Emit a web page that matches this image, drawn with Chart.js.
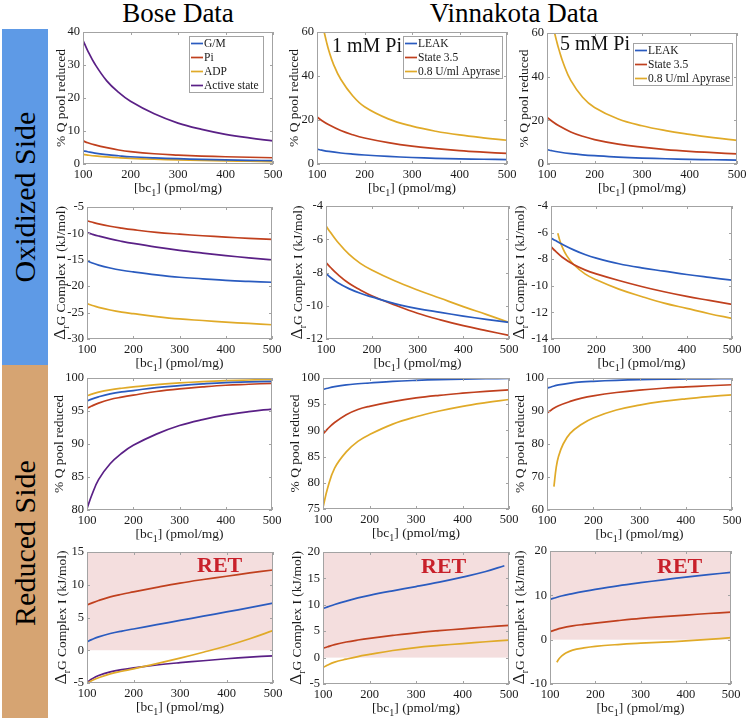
<!DOCTYPE html>
<html>
<head>
<meta charset="utf-8">
<script src="https://cdn.jsdelivr.net/npm/chart.js@4.4.0/dist/chart.umd.min.js"></script>
<style>
	body { margin:0; background:#fff; width:747px; height:721px; position:relative; overflow:hidden; font-family:"Liberation Serif", serif; }
	.band { position:absolute; left:2px; width:46px; }
	.side { position:absolute; left:25px; font-size:30px; line-height:30px; white-space:nowrap; transform:translate(-50%,-50%) rotate(-90deg); }
	.head { position:absolute; top:0; font-size:27px; line-height:27px; white-space:nowrap; transform:translateX(-50%); }
	canvas { position:absolute; }
</style>
</head>
<body>
<div class="band" style="top:29px;height:336px;background:#5e9ae6"></div>
<div class="band" style="top:365px;height:353px;background:#d6a472"></div>
<div class="side" style="top:197px">Oxidized Side</div>
<div class="side" style="top:543px">Reduced Side</div>
<div class="head" style="left:178px">Bose Data</div>
<div class="head" style="left:514px">Vinnakota Data</div>
<script>
// x values, [bc1] in pmol/mg
const bc1 = [100, 110, 125, 150, 175, 200, 250, 300, 350, 400, 450, 500]
const bc1Leak1 = [100, 110, 125, 150, 175, 200, 250, 300, 350, 400, 450, 490]
const bc1Apy1 = [114, 120, 125, 135, 150, 175, 200, 250, 300, 350, 400, 450, 500]
const bc1Apy5 = [115, 120, 125, 135, 150, 175, 200, 250, 300, 350, 400, 450, 500]
const xTicks = [100, 200, 300, 400, 500]

const boseLabels = ['G/M', 'Pi', 'ADP', 'Active state']
const vinLabels = ['LEAK', 'State 3.5', '0.8 U/ml Apyrase']

// oxidized side, % Q pool reduced
const bOxQ_GM = [4.0, 3.7, 3.3, 2.85, 2.5, 2.2, 1.85, 1.6, 1.4, 1.25, 1.12, 1.0]
const bOxQ_Pi = [7.0, 6.45, 5.8, 4.95, 4.25, 3.75, 3.1, 2.7, 2.4, 2.2, 2.05, 1.9]
const bOxQ_ADP = [2.9, 2.7, 2.45, 2.15, 1.9, 1.7, 1.45, 1.25, 1.1, 0.95, 0.83, 0.72]
const bOxQ_Act = [37.5, 34.3, 30.3, 25.2, 21.7, 19.0, 15.2, 12.4, 10.5, 9.0, 7.9, 7.0]
const v1OxQ_Leak = [6.8, 6.3, 5.7, 5.0, 4.5, 4.1, 3.45, 2.95, 2.6, 2.35, 2.15, 2.0]
const v1OxQ_S35 = [21.4, 19.8, 17.8, 15.2, 13.3, 11.8, 9.7, 8.1, 7.0, 6.1, 5.4, 4.8]
const v1OxQ_Apy = [61, 55.5, 51.5, 45.2, 38.5, 31.0, 26.0, 20.5, 17.2, 14.9, 13.2, 11.9, 10.8]
const v5OxQ_Leak = [6.6, 6.1, 5.5, 4.75, 4.2, 3.8, 3.15, 2.7, 2.4, 2.15, 1.95, 1.8]
const v5OxQ_S35 = [21.5, 19.7, 17.5, 14.7, 12.7, 11.2, 9.1, 7.7, 6.6, 5.8, 5.2, 4.6]
const v5OxQ_Apy = [61, 56.5, 52.5, 45.8, 38.3, 30.6, 25.9, 20.6, 17.5, 15.3, 13.6, 12.1, 10.8]

// oxidized side, dG complex I
const bOxG_GM = [-15.2, -15.55, -16.0, -16.55, -16.98, -17.3, -17.85, -18.3, -18.6, -18.9, -19.1, -19.25]
const bOxG_Pi = [-7.6, -7.85, -8.2, -8.65, -9.0, -9.3, -9.8, -10.15, -10.45, -10.7, -10.95, -11.15]
const bOxG_ADP = [-23.3, -23.6, -24.0, -24.5, -24.9, -25.2, -25.75, -26.2, -26.5, -26.8, -27.05, -27.3]
const bOxG_Act = [-9.84, -10.12, -10.5, -11.05, -11.5, -11.9, -12.6, -13.2, -13.72, -14.2, -14.62, -15.0]
const v1OxG_Leak = [-8.05, -8.3, -8.6, -8.97, -9.25, -9.47, -9.87, -10.17, -10.4, -10.62, -10.82, -11.0]
const v1OxG_S35 = [-7.4, -7.7, -8.1, -8.65, -9.05, -9.4, -9.95, -10.45, -10.85, -11.2, -11.5, -11.78]
const v1OxG_Apy = [-5.2, -5.6, -6.15, -6.9, -7.45, -7.85, -8.5, -9.05, -9.55, -10.05, -10.52, -11.0]
const v5OxG_Leak = [-6.4, -6.6, -6.88, -7.3, -7.65, -7.92, -8.34, -8.65, -8.9, -9.15, -9.37, -9.58]
const v5OxG_S35 = [-7.05, -7.4, -7.85, -8.4, -8.8, -9.1, -9.6, -10.05, -10.45, -10.8, -11.1, -11.4]
const v5OxG_Apy = [-6.05, -6.65, -7.1, -7.75, -8.4, -9.1, -9.55, -10.25, -10.8, -11.3, -11.7, -12.1, -12.45]

// reduced side, % Q pool reduced
const bRedQ_GM = [96.5, 96.8, 97.15, 97.6, 97.9, 98.1, 98.55, 98.85, 99.1, 99.3, 99.4, 99.5]
const bRedQ_Pi = [95.4, 95.75, 96.2, 96.75, 97.1, 97.4, 97.95, 98.35, 98.65, 98.9, 99.05, 99.2]
const bRedQ_ADP = [97.3, 97.55, 97.85, 98.2, 98.45, 98.65, 99.0, 99.25, 99.45, 99.6, 99.7, 99.8]
const bRedQ_Act = [80.2, 82.2, 84.6, 87.0, 88.6, 89.8, 91.5, 92.8, 93.7, 94.4, 94.9, 95.3]
const v1RedQ_Leak = [97.8, 98.05, 98.35, 98.7, 98.9, 99.05, 99.35, 99.55, 99.7, 99.8, 99.87, 99.92]
const v1RedQ_S35 = [89.3, 90.3, 91.5, 93.0, 94.0, 94.6, 95.5, 96.2, 96.7, 97.1, 97.45, 97.75]
const v1RedQ_Apy = [75.3, 79.0, 82.8, 85.9, 87.9, 89.2, 91.2, 92.6, 93.7, 94.6, 95.3, 95.9]
const v5RedQ_Leak = [96.9, 97.35, 97.9, 98.45, 98.8, 99.0, 99.3, 99.5, 99.62, 99.7, 99.76, 99.8]
const v5RedQ_S35 = [89.4, 90.4, 91.6, 92.9, 93.9, 94.6, 95.6, 96.35, 96.9, 97.3, 97.65, 97.95]
const v5RedQ_Apy = [67.1, 73.0, 76.3, 80.0, 83.2, 86.0, 87.9, 90.3, 91.8, 92.9, 93.7, 94.35, 94.9]

// reduced side, dG complex I
const bRedG_GM = [1.3, 1.62, 2.05, 2.55, 2.93, 3.25, 3.9, 4.55, 5.2, 5.85, 6.5, 7.2]
const bRedG_Pi = [6.9, 7.2, 7.6, 8.15, 8.55, 8.9, 9.6, 10.25, 10.8, 11.3, 11.8, 12.25]
const bRedG_ADP = [-5.0, -4.65, -4.2, -3.6, -3.2, -2.85, -2.05, -1.2, -0.3, 0.65, 1.75, 3.0]
const bRedG_Act = [-4.9, -4.4, -3.85, -3.3, -2.95, -2.7, -2.25, -1.9, -1.6, -1.3, -1.05, -0.85]
const v1RedG_Leak = [9.3, 9.6, 10.05, 10.7, 11.3, 11.8, 12.65, 13.45, 14.3, 15.25, 16.3, 17.4]
const v1RedG_S35 = [1.76, 2.05, 2.45, 2.95, 3.33, 3.65, 4.2, 4.7, 5.1, 5.45, 5.8, 6.1]
const v1RedG_Apy = [-1.9, -1.4, -0.85, -0.3, 0.2, 0.6, 1.35, 1.9, 2.3, 2.65, 3.0, 3.3]
const v5RedG_Leak = [9.1, 9.4, 9.85, 10.4, 10.9, 11.35, 12.15, 12.85, 13.5, 14.1, 14.65, 15.2]
const v5RedG_S35 = [1.8, 2.15, 2.6, 3.1, 3.45, 3.75, 4.3, 4.8, 5.2, 5.55, 5.9, 6.2]
const v5RedG_Apy = [-5.1, -4.3, -3.75, -3.0, -2.35, -1.85, -1.5, -1.1, -0.8, -0.55, -0.28, 0.05, 0.45]

// y tick labels
const tOxQBose = [0, 10, 20, 30, 40]
const tOxQVin = [0, 20, 40, 60]
const tOxGBose = [-30, -25, -20, -15, -10, -5]
const tOxGVin1 = [-12, -10, -8, -6, -4]
const tOxGVin5 = [-14, -12, -10, -8, -6, -4]
const tRedQBose = [80, 85, 90, 95, 100]
const tRedQVin1 = [75, 80, 85, 90, 95, 100]
const tRedQVin5 = [60, 70, 80, 90, 100]
const tRedGBose = [-5, 0, 5, 10, 15]
const tRedGVin1 = [-5, 0, 5, 10, 15, 20]
const tRedGVin5 = [-10, 0, 10, 20]

const blue = '#2a5bbf', red = '#c0401e', yellow = '#e0aa28', purple = '#5a2086'
const boseColors = [blue, red, yellow, purple]
const vinColors = [blue, red, yellow]

const qTitle = [['% Q pool reduced', 13.5, 0]]
const gTitle = [['\u0394', 17.5, 0], ['r', 10, 4], ['G Complex I (kJ/mol)', 13.5, 0]]
const xTitle = [['[bc', 13.5, 0], ['1', 10, 4], ['] (pmol/mg)', 13.5, 0]]

const ml = 70, mt = 12, mr = 14, mb = 40

let panels = [
	{ rect: [83, 32, 273, 164], yt: 60, ticks: tOxQBose, title: qTitle, labels: boseLabels, colors: boseColors,
		xs: [bc1, bc1, bc1, bc1], ys: [bOxQ_GM, bOxQ_Pi, bOxQ_ADP, bOxQ_Act], legend: [189, 36, 263] },
	{ rect: [317, 32, 507, 164], yt: 293, ticks: tOxQVin, title: qTitle, labels: vinLabels, colors: vinColors,
		xs: [bc1, bc1, bc1Apy1], ys: [v1OxQ_Leak, v1OxQ_S35, v1OxQ_Apy], legend: [403, 36, 502], note: ['1 mM Pi', 332, 52] },
	{ rect: [547, 33, 737, 164], yt: 523, ticks: tOxQVin, title: qTitle, labels: vinLabels, colors: vinColors,
		xs: [bc1, bc1, bc1Apy5], ys: [v5OxQ_Leak, v5OxQ_S35, v5OxQ_Apy], legend: [633, 43, 732], note: ['5 mM Pi', 560, 50] },
	{ rect: [87, 207, 272, 339], yt: 60, ticks: tOxGBose, title: gTitle, labels: boseLabels, colors: boseColors,
		xs: [bc1, bc1, bc1, bc1], ys: [bOxG_GM, bOxG_Pi, bOxG_ADP, bOxG_Act] },
	{ rect: [326, 206, 509, 339], yt: 297, ticks: tOxGVin1, title: gTitle, labels: vinLabels, colors: vinColors,
		xs: [bc1, bc1, bc1], ys: [v1OxG_Leak, v1OxG_S35, v1OxG_Apy] },
	{ rect: [551, 206, 732, 339], yt: 519, ticks: tOxGVin5, title: gTitle, labels: vinLabels, colors: vinColors,
		xs: [bc1, bc1, bc1Apy5], ys: [v5OxG_Leak, v5OxG_S35, v5OxG_Apy] },
	{ rect: [87, 378, 272, 510], yt: 58, ticks: tRedQBose, title: qTitle, labels: boseLabels, colors: boseColors,
		xs: [bc1, bc1, bc1, bc1], ys: [bRedQ_GM, bRedQ_Pi, bRedQ_ADP, bRedQ_Act] },
	{ rect: [323, 378, 509, 509], yt: 294, ticks: tRedQVin1, title: qTitle, labels: vinLabels, colors: vinColors,
		xs: [bc1, bc1, bc1], ys: [v1RedQ_Leak, v1RedQ_S35, v1RedQ_Apy] },
	{ rect: [547, 378, 732, 510], yt: 519, ticks: tRedQVin5, title: qTitle, labels: vinLabels, colors: vinColors,
		xs: [bc1, bc1, bc1Apy5], ys: [v5RedQ_Leak, v5RedQ_S35, v5RedQ_Apy] },
	{ rect: [87, 552, 273, 683], yt: 61, ticks: tRedGBose, title: gTitle, labels: boseLabels, colors: boseColors,
		xs: [bc1, bc1, bc1, bc1], ys: [bRedG_GM, bRedG_Pi, bRedG_ADP, bRedG_Act], ret: [197, 572] },
	{ rect: [323, 552, 509, 684], yt: 296, ticks: tRedGVin1, title: gTitle, labels: vinLabels, colors: vinColors,
		xs: [bc1Leak1, bc1, bc1], ys: [v1RedG_Leak, v1RedG_S35, v1RedG_Apy], ret: [421, 573] },
	{ rect: [550, 551, 731, 684], yt: 519, ticks: tRedGVin5, title: gTitle, labels: vinLabels, colors: vinColors,
		xs: [bc1, bc1, bc1Apy5], ys: [v5RedG_Leak, v5RedG_S35, v5RedG_Apy], ret: [657, 573] }
]

const serif = (s, bold) => (bold ? 'bold ' : '') + s + 'px "Liberation Serif", serif'

let drawRuns = (ctx, runs, x, y) => {
	let w = 0
	runs.forEach(r => { ctx.font = serif(r[1]); w += ctx.measureText(r[0]).width })
	let cx = x - w / 2
	runs.forEach(r => {
		ctx.font = serif(r[1])
		ctx.fillText(r[0], cx, y + r[2])
		cx += ctx.measureText(r[0]).width
	})
}

const panelPlugin = {
	id: 'panel',
	beforeDatasetsDraw(chart, args, p) {
		if (!p.ret) return
		let { ctx, chartArea: a, scales: { y } } = chart
		ctx.save()
		ctx.fillStyle = '#f4dede'
		ctx.fillRect(a.left, a.top, a.right - a.left, y.getPixelForValue(0) - a.top)
		ctx.restore()
	},
	afterDatasetsDraw(chart, args, p) {
		let { ctx, chartArea: a, scales: { x, y } } = chart
		ctx.save()
		ctx.strokeStyle = '#a3a3a3'
		ctx.lineWidth = 1
		ctx.strokeRect(Math.round(a.left) + .5, Math.round(a.top) + .5, Math.round(a.right - a.left) - 1, Math.round(a.bottom - a.top) - 1)
		ctx.beginPath()
		x.ticks.forEach(t => {
			let px = Math.round(x.getPixelForValue(t.value)) + .5
			ctx.moveTo(px, a.bottom); ctx.lineTo(px, a.bottom - 3)
			ctx.moveTo(px, a.top); ctx.lineTo(px, a.top + 3)
		})
		y.ticks.forEach(t => {
			let py = Math.round(y.getPixelForValue(t.value)) + .5
			ctx.moveTo(a.left, py); ctx.lineTo(a.left + 3, py)
			ctx.moveTo(a.right, py); ctx.lineTo(a.right - 3, py)
		})
		ctx.stroke()
		ctx.restore()
	},
	afterDraw(chart, args, p) {
		let { ctx, chartArea: a } = chart
		let ox = p.rect[0] - ml, oy = p.rect[1] - mt
		ctx.save()
		ctx.fillStyle = '#1a1a1a'
		ctx.textBaseline = 'alphabetic'
		drawRuns(ctx, xTitle, (a.left + a.right) / 2, a.bottom + 28)
		ctx.save()
		ctx.translate(a.left - (p.rect[0] - p.yt), (a.top + a.bottom) / 2)
		ctx.rotate(-Math.PI / 2)
		drawRuns(ctx, p.title, 0, 4.5)
		ctx.restore()
		if (p.legend) {
			let [l, t, r] = p.legend
			l -= ox; t -= oy; r -= ox
			let sets = chart.data.datasets
			ctx.fillStyle = '#fff'
			ctx.fillRect(l, t, r - l, sets.length * 14)
			ctx.strokeStyle = '#a3a3a3'
			ctx.strokeRect(l + .5, t + .5, r - l, sets.length * 14)
			ctx.font = serif(11.5)
			ctx.textBaseline = 'middle'
			sets.forEach((d, i) => {
				let cy = t + 7.5 + i * 14
				ctx.strokeStyle = d.borderColor
				ctx.lineWidth = 1.7
				ctx.beginPath(); ctx.moveTo(l + 2, cy); ctx.lineTo(l + 14, cy); ctx.stroke()
				ctx.fillStyle = '#1a1a1a'
				ctx.fillText(d.label, l + 15, cy + .5)
			})
			ctx.textBaseline = 'alphabetic'
		}
		if (p.note) {
			ctx.fillStyle = '#111'
			ctx.font = serif(20)
			ctx.fillText(p.note[0], p.note[1] - ox, p.note[2] - oy)
		}
		if (p.ret) {
			ctx.fillStyle = '#c8202a'
			ctx.font = serif(22, true)
			ctx.fillText('RET', p.ret[0] - ox, p.ret[1] - oy)
		}
		ctx.restore()
	}
}

Chart.defaults.font.family = '"Liberation Serif", serif'
Chart.defaults.font.size = 12.5
Chart.defaults.color = '#1a1a1a'

panels.forEach(p => {
	let [l, t, r, b] = p.rect
	let cv = document.createElement('canvas')
	cv.width = r - l + ml + mr
	cv.height = b - t + mt + mb
	cv.style.left = (l - ml) + 'px'
	cv.style.top = (t - mt) + 'px'
	document.body.appendChild(cv)
	new Chart(cv, {
		type: 'line',
		data: {
			datasets: p.ys.map((ys, i) => ({
				label: p.labels[i],
				data: ys.map((v, j) => ({ x: p.xs[i][j], y: v })),
				borderColor: p.colors[i],
				borderWidth: 1.7,
				pointRadius: 0,
				fill: false,
				tension: 0.4
			}))
		},
		options: {
			responsive: false,
			animation: false,
			layout: { padding: { left: 0, top: mt, right: mr, bottom: 0 } },
			plugins: { legend: { display: false }, tooltip: { enabled: false }, panel: p },
			scales: {
				x: {
					type: 'linear', min: 100, max: 500,
					afterBuildTicks: s => { s.ticks = xTicks.map(v => ({ value: v })) },
					afterFit: s => { s.height = mb },
					grid: { display: false, drawTicks: false }, border: { display: false },
					ticks: { padding: 3, maxRotation: 0 }
				},
				y: {
					min: p.ticks[0], max: p.ticks[p.ticks.length - 1],
					afterBuildTicks: s => { s.ticks = p.ticks.map(v => ({ value: v })) },
					afterFit: s => { s.width = ml },
					grid: { display: false, drawTicks: false }, border: { display: false },
					ticks: { padding: 3 }
				}
			}
		},
		plugins: [panelPlugin]
	})
})
</script>
</body>
</html>
